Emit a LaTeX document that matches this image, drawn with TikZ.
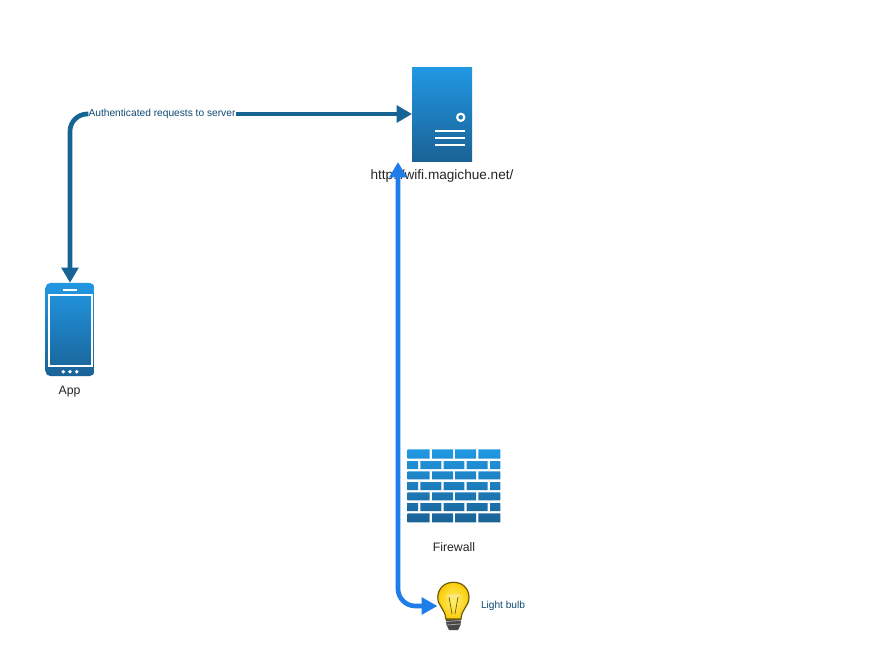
\documentclass[tikz,border=0pt]{standalone}
\usepackage{fontspec}
\setmainfont{Liberation Sans}
\usetikzlibrary{arrows.meta}
\definecolor{gtop}{HTML}{2198E3}
\definecolor{gbot}{HTML}{1A6296}
\definecolor{darkline}{HTML}{156494}
\definecolor{blueline}{HTML}{1E7DE9}
\definecolor{labelblue}{HTML}{0C4A74}
\definecolor{bulbedge}{HTML}{6B5A08}
\definecolor{bulbin}{HTML}{FFF270}
\definecolor{bulbout}{HTML}{FBCB08}
\tikzset{
  px/.style={x=0.75pt,y=-0.75pt},
  device/.style={inner sep=0pt,outer sep=0pt,top color=gtop,bottom color=gbot,middle color=gtop!50!gbot},
  ghostbox/.style={inner sep=0pt,outer sep=0pt},
  caption/.style={inner sep=0pt,font=\fontsize{9.2pt}{11pt}\selectfont,text=black!85},
  bluecap/.style={inner sep=0pt,text=labelblue},
  darkarrow/.style={line width=3.5pt,draw=darkline,rounded corners=13pt,-{Triangle[length=11.5pt,width=12.5pt]}},
  bluearrow/.style={line width=3.5pt,draw=blueline,rounded corners=13pt,{Triangle[length=11.5pt,width=12.5pt]}-{Triangle[length=12pt,width=12.5pt]}},
  whiteline/.style={draw=white,line cap=butt},
}
\begin{document}
\begin{tikzpicture}[px]
\useasboundingbox (0,0) rectangle (883,671);
\fill[white] (0,0) rectangle (883,671);

% server
\node[device,minimum width=45pt,minimum height=70.5pt] (server) at (442,114) {};
\draw[whiteline,line width=1.6pt] (460.7,117.3) circle (3.6);
\draw[whiteline,line width=1.7pt] (435.3,131) -- (465.3,131);
\draw[whiteline,line width=1.5pt] (435.3,138) -- (465.3,138);
\draw[whiteline,line width=1.5pt] (435.3,145.3) -- (465.3,145.3);
\node[caption,font=\fontsize{10.2pt}{12pt}\selectfont] (servertext) at (442,175.5) {http://wifi.magichue.net/};

% phone
\node[device,rounded corners=4pt,minimum width=37pt,minimum height=70pt] (phone) at (70,329.5) {};
\draw[whiteline,line width=1.4pt] (48.6,295.2) rectangle (92,366);
\draw[whiteline,line width=1.9pt] (62.7,290) -- (77.3,290);
\fill[white] (63.3,371.7) circle (1.9) (70,371.7) circle (1.9) (76.7,371.7) circle (1.9);
\node[caption] (phonetext) at (69.5,391.5) {App};

% firewall
\node[ghostbox,minimum width=69.6pt,minimum height=55pt] (firewall) at (454,485.7) {};
\shade[top color=gtop,bottom color=gbot,middle color=gtop!50!gbot]
  (407.7,449.3) rectangle (429.7,458.7) (432,449.3) rectangle (453,458.7) (455,449.3) rectangle (476,458.7) (478.3,449.3) rectangle (500.3,458.7)
  (407.7,461) rectangle (418,469) (420.3,461) rectangle (441.3,469) (443.7,461) rectangle (464.3,469) (466.7,461) rectangle (487.7,469) (490,461) rectangle (500.3,469)
  (407.7,471.3) rectangle (429.7,479.3) (432,471.3) rectangle (453,479.3) (455,471.3) rectangle (476,479.3) (478.3,471.3) rectangle (500.3,479.3)
  (407.7,482) rectangle (418,490) (420.3,482) rectangle (441.3,490) (443.7,482) rectangle (464.3,490) (466.7,482) rectangle (487.7,490) (490,482) rectangle (500.3,490)
  (407.7,492.3) rectangle (429.7,500.3) (432,492.3) rectangle (453,500.3) (455,492.3) rectangle (476,500.3) (478.3,492.3) rectangle (500.3,500.3)
  (407.7,503) rectangle (418,511) (420.3,503) rectangle (441.3,511) (443.7,503) rectangle (464.3,511) (466.7,503) rectangle (487.7,511) (490,503) rectangle (500.3,511)
  (407.7,513.3) rectangle (429.7,522.3) (432,513.3) rectangle (453,522.3) (455,513.3) rectangle (476,522.3) (478.3,513.3) rectangle (500.3,522.3);
\node[caption] (firewalltext) at (454,547) {Firewall};

% bulb
\node[ghostbox,minimum width=24pt,minimum height=36pt] (bulb) at (453.5,606) {};
\fill[black!72] (445.7,618) -- (461.3,618) -- (460.5,625) -- (458,630) -- (449,630) -- (446.5,625) -- cycle;
\draw[black!35,line width=0.6pt] (446,621.5) -- (461,620.5) (446.8,625) -- (460.3,624);
\shade[inner color=bulbin,outer color=bulbout,draw=bulbedge,line width=0.9pt]
  (453.5,582.3) .. controls (443.5,582.3) and (437.8,589.5) .. (437.8,597.5)
  .. controls (437.8,606.5) and (445.5,609) .. (445.8,619)
  -- (461,619)
  .. controls (461.3,609) and (469,606.5) .. (469,597.5)
  .. controls (469,589.5) and (463.5,582.3) .. (453.5,582.3) -- cycle;
\fill[white!55!bulbout,opacity=0.85] (447,594.5) -- (460,594.5) -- (459,598) -- (448,598) -- cycle;
\draw[bulbedge,line width=0.5pt] (449,597) -- (452,614) (458,597) -- (455,614);
\node[bluecap,font=\fontsize{7.6pt}{9pt}\selectfont] (bulbtext) at (503,605.5) {Light bulb};

% connectors
\node[bluecap,font=\fontsize{7.65pt}{10pt}\selectfont] (request) at (162,114) {Authenticated requests to server};
\draw[darkarrow] (request.east) -- (server.west |- request.east) ;
\draw[darkarrow] (request.west) -| (phone.north);
\coordinate (upperend) at (398,162);
\draw[bluearrow] (upperend) |- (bulb.west);
\end{tikzpicture}
\end{document}
